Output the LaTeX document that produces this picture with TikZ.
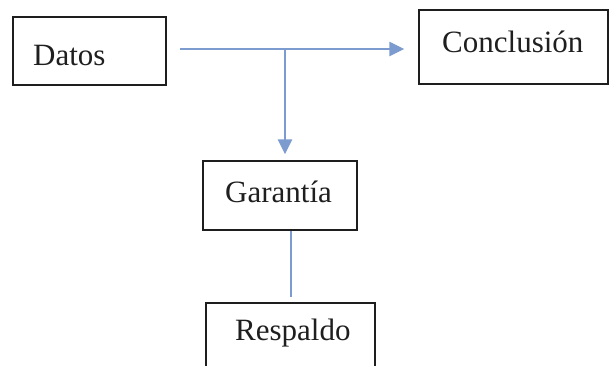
\documentclass[tikz,border=0pt]{standalone}
\usepackage{fontspec}
\setmainfont{Liberation Serif}
\usetikzlibrary{arrows.meta}
\definecolor{lineblue}{RGB}{124,155,206}
\definecolor{boxline}{RGB}{30,30,30}
\tikzset{
  box/.style={draw=boxline, line width=1.5pt, fill=none, inner sep=0pt},
  txt/.style={inner sep=0pt, font=\fontsize{31}{37}\selectfont, text=black!88},
  arr/.style={draw=lineblue, line width=2.6pt, -{Triangle[length=15pt,width=14pt]}},
  thin/.style={draw=lineblue, line width=1.6pt},
}
\begin{document}
\begin{tikzpicture}[x=1pt,y=-1pt]
\useasboundingbox (0,0) rectangle (610,365);
\clip (0,0) rectangle (610,365);
% boxes
\node[box, minimum width=153pt, minimum height=68pt] (datos) at (89.5,51) {};
\node[txt, anchor=base west] (datosT) at (33,65) {Datos};
\node[box, minimum width=189pt, minimum height=74pt] (concl) at (513.5,47) {};
\node[txt, anchor=base west] (conclT) at (442,52) {Conclusión};
\node[box, minimum width=154pt, minimum height=69pt] (gar) at (280,195.5) {};
\node[txt, anchor=base west] (garT) at (225,202) {Garantía};
\node[box, minimum width=169pt, minimum height=84pt] (resp) at (290.5,345) {};
\node[txt, anchor=base west] (respT) at (235,340) {Respaldo};
% connectors
\coordinate (s) at (180,49);
\coordinate (j) at (285,49);
\draw[arr, shorten >=14pt] (s) -- (s -| concl.west);
\draw[arr, shorten >=6pt] (j) -- (j |- gar.north);
\draw[thin, shorten >=5pt] ([xshift=11pt]gar.south) -- ([xshift=11pt]gar.south |- resp.north);
\end{tikzpicture}
\end{document}
